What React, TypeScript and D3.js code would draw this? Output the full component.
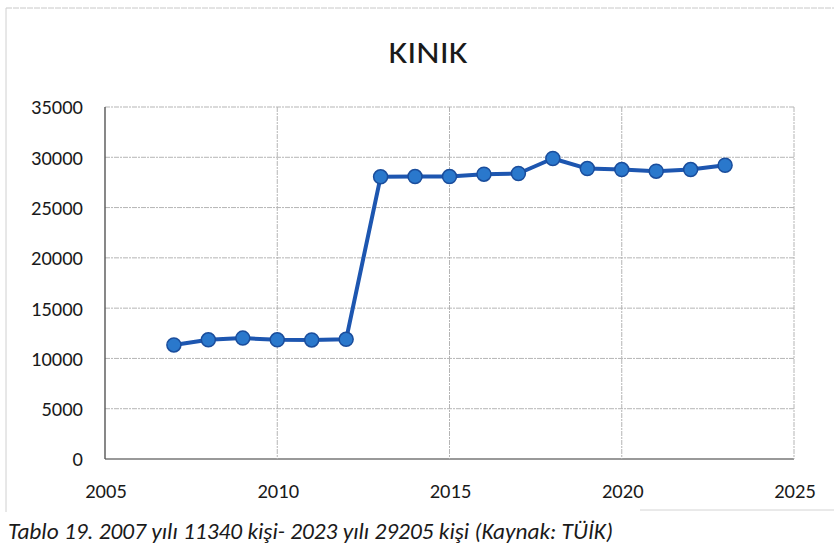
import React from "react";
import * as d3 from "d3";

const years = [2007, 2008, 2009, 2010, 2011, 2012, 2013, 2014, 2015, 2016, 2017, 2018, 2019, 2020, 2021, 2022, 2023];
const population = [11340, 11850, 12020, 11850, 11840, 11900, 28060, 28080, 28080, 28320, 28390, 29880, 28880, 28780, 28620, 28780, 29205];
const xTicks = [2005, 2010, 2015, 2020, 2025];
const yTicks = [0, 5000, 10000, 15000, 20000, 25000, 30000, 35000];
const title = "KINIK";
const caption = "Tablo 19. 2007 yılı 11340 kişi- 2023 yılı 29205 kişi (Kaynak: TÜİK)";

const W = 834;
const H = 544;
const font = "Carlito, Lato, 'Open Sans', sans-serif";

const App: React.FC = () => {
  const x = d3.scaleLinear().domain([2005, 2025]).range([105, 794]);
  const y = d3.scaleLinear().domain([0, 35000]).range([459, 107]);

  const line = d3.line<number>()
    .x((_, i) => x(years[i]))
    .y(d => y(d));

  return (
    <svg width={W} height={H} style={{ position: "absolute", left: 0, top: 0, background: "#fff" }}>
      {/* outer frame (faint) */}
      <line x1={6} x2={W} y1={8} y2={8} stroke="#c8c8c8" strokeWidth={1} strokeDasharray="6 1" />
      <line x1={6} x2={6} y1={8} y2={512} stroke="#d0d0d0" strokeWidth={1} />
      <line x1={640} x2={W} y1={510} y2={510} stroke="#d4d4d4" strokeWidth={1} />

      <text x={428} y={63} textAnchor="middle" fontFamily={font} fontWeight={300} fontSize={31} fill="#1a1a1a"
        textLength={79} lengthAdjust="spacingAndGlyphs">{title}</text>

      {/* horizontal grid */}
      {yTicks.map(t => (
        <g key={t}>
          <line x1={x(2005)} x2={x(2025)} y1={y(t)} y2={y(t)}
            stroke={t === 0 ? "#777" : "#b5b5b5"} strokeWidth={t === 0 ? 1.4 : 1}
            strokeDasharray={t === 0 ? undefined : "5 1 2 1"} />
          <text x={83} y={y(t)} dy="0.36em" textAnchor="end" fontFamily={font} fontSize={20.5} fill="#1a1a1a">{t}</text>
        </g>
      ))}

      {/* vertical grid */}
      {xTicks.map(t => (
        <g key={t}>
          <line x1={x(t)} x2={x(t)} y1={y(35000)} y2={y(0)}
            stroke={t === 2005 ? "#555" : "#b5b5b5"} strokeWidth={t === 2005 ? 1.4 : 1}
            strokeDasharray={t === 2005 ? undefined : "5 1 2 1"} />
          <text x={x(t) + 1} y={498} textAnchor="middle" fontFamily={font} fontSize={20.5} fill="#1a1a1a">{t}</text>
        </g>
      ))}

      <path d={line(population) ?? ""} fill="none" stroke="#1d56b0" strokeWidth={4} strokeLinejoin="round" />
      {population.map((v, i) => (
        <circle key={years[i]} cx={x(years[i])} cy={y(v)} r={7} fill="#2a78cc" stroke="#1a4d9c" strokeWidth={1.5} />
      ))}

      <text x={8} y={539} fontFamily={font} fontStyle="italic" fontSize={22} fill="#1a1a1a"
        textLength={605} lengthAdjust="spacingAndGlyphs">{caption}</text>
    </svg>
  );
};

export default App;
